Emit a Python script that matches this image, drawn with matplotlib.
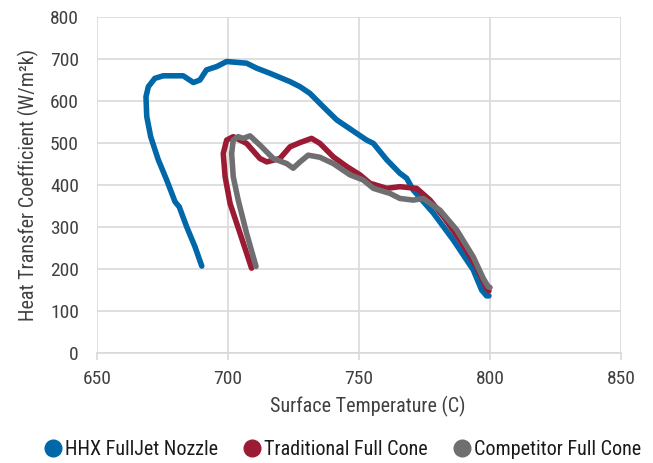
import matplotlib
matplotlib.use("Agg")
import matplotlib.pyplot as plt
from matplotlib.lines import Line2D
from matplotlib import font_manager

# ---------------- data ----------------
hhx_temp = [690.0, 687.4, 684.2, 681.4, 679.8, 676.6, 673.4, 670.5, 669.0, 668.7,
            669.6, 672.1, 675.3, 682.9, 686.8, 689.3, 691.8, 695.7, 699.5, 707.1,
            711.0, 716.0, 723.7, 727.5, 731.3, 736.4, 741.5, 745.3, 752.9, 755.5,
            760.6, 765.6, 768.2, 770.7, 778.4, 786.0, 793.6, 796.8, 798.7, 799.6]
hhx_htc = [207, 253, 301, 348, 360, 412, 460, 515, 563, 610,
           634, 654, 660, 660, 644, 650, 674, 682, 694, 690,
           678, 666, 646, 634, 618, 586, 555, 539, 507, 499,
           460, 428, 416, 388, 333, 269, 198, 150, 136, 136]

trad_temp = [709.0, 704.6, 700.8, 698.9, 698.2, 699.5, 702.0, 707.1, 712.2, 714.8,
             719.8, 723.7, 727.5, 731.9, 735.1, 740.2, 745.3, 750.4, 754.2, 760.6,
             765.6, 772.0, 777.1, 782.2, 788.5, 794.9, 798.7, 799.6]
trad_htc = [202, 285, 356, 420, 475, 507, 515, 499, 463, 455,
            463, 491, 501, 511, 499, 467, 444, 424, 404, 392,
            396, 392, 364, 325, 269, 205, 154, 148]

comp_temp = [710.7, 707.1, 703.9, 702.0, 701.4, 702.0, 703.9, 705.8, 708.4, 712.2,
             717.3, 722.4, 724.9, 727.5, 730.6, 735.1, 740.2, 746.6, 751.6, 755.5,
             761.8, 765.6, 770.7, 774.5, 780.9, 787.3, 793.6, 797.4, 799.3, 800.0]
comp_htc = [206, 285, 364, 420, 475, 507, 515, 511, 517, 495,
            463, 451, 440, 455, 471, 466, 451, 424, 412, 392,
            380, 368, 364, 368, 340, 293, 229, 178, 158, 156]

series_names = ["HHX FullJet Nozzle", "Traditional Full Cone", "Competitor Full Cone"]
x_ticks = [650, 700, 750, 800, 850]
y_ticks = [0, 100, 200, 300, 400, 500, 600, 700, 800]

# ---------------- font: prefer a narrow sans ----------------
fonts = [(f.name, f.stretch) for f in font_manager.fontManager.ttflist]
names = {n for n, _ in fonts}
family = None
for cand in ['Roboto Condensed', 'Liberation Sans Narrow', 'Open Sans Condensed']:
    if cand in names:
        family = cand
        break
if family is None and ('DejaVu Sans', 'condensed') in fonts:
    family = 'DejaVu Sans'
    plt.rcParams['font.stretch'] = 'condensed'
if family is None:
    family = 'Roboto' if 'Roboto' in names else 'DejaVu Sans'
plt.rcParams['font.family'] = [family, 'DejaVu Sans']

blue = "#0068a8"
red = "#9b1b35"
gray = "#6f6f72"
text_col = "#404040"
grid_col = "#d9d9d9"

fig = plt.figure(figsize=(6.53, 4.63), dpi=100)
ax = fig.add_axes([0.1485, 0.2376, 0.8025, 0.7257])

lw = 4.0
ax.plot(hhx_temp, hhx_htc, color=blue, lw=lw, solid_capstyle='round', zorder=3)
ax.plot(trad_temp, trad_htc, color=red, lw=lw, solid_capstyle='round', zorder=4)
ax.plot(comp_temp, comp_htc, color=gray, lw=lw, solid_capstyle='round', zorder=5)

ax.set_xlim(650, 850)
ax.set_ylim(0, 800)
ax.set_xticks(x_ticks)
ax.set_yticks(y_ticks)
ax.grid(True, color=grid_col, lw=1.2)
ax.set_axisbelow(True)
for s in ["top", "right", "left"]:
    ax.spines[s].set_visible(False)
ax.spines["bottom"].set_color(grid_col)
ax.spines["bottom"].set_linewidth(1.2)
ax.tick_params(axis='y', length=0, pad=13, labelsize=14, labelcolor=text_col)
ax.tick_params(axis='x', length=5, width=1.2, color=grid_col, pad=7,
               labelsize=14, labelcolor=text_col)

ax.set_xlabel("Surface Temperature (C)", fontsize=14.5, color=text_col, labelpad=6)
ax.xaxis.label.set_x(0.517)
ax.set_ylabel("Heat Transfer Coefficient (W/m²k)", fontsize=14.5, color=text_col, labelpad=8)

handles = [Line2D([], [], ls='', marker='o', markersize=12, color=c)
           for c in [blue, red, gray]]
fig.legend(handles, series_names, loc='center', bbox_to_anchor=(0.525, 0.03),
           ncol=3, frameon=False, fontsize=14.5, handlelength=0.8,
           handletextpad=0.2, columnspacing=1.3, labelcolor='#1a1a1a')

fig.savefig("out.png", dpi=100)
